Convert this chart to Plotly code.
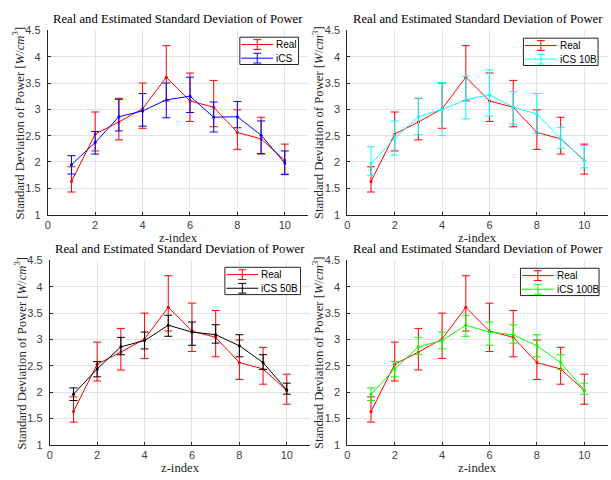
import plotly.graph_objects as go

z = [1, 2, 3, 4, 5, 6, 7, 8, 9, 10]

real = [1.63, 2.53, 2.76, 3.01, 3.61, 3.16, 3.04, 2.56, 2.44, 2.03]
real_hi = [1.91, 2.95, 3.21, 3.50, 4.21, 3.69, 3.55, 2.99, 2.85, 2.34]
real_lo = [1.43, 2.21, 2.42, 2.64, 3.16, 2.77, 2.67, 2.24, 2.15, 1.77]

ics = [1.95, 2.37, 2.86, 2.97, 3.18, 3.25, 2.85, 2.86, 2.51, 1.98]
ics_hi = [2.12, 2.58, 3.19, 3.30, 3.50, 3.61, 3.14, 3.15, 2.78, 2.21]
ics_lo = [1.77, 2.15, 2.59, 2.68, 2.84, 2.94, 2.57, 2.65, 2.16, 1.76]

ics10 = [1.97, 2.45, 2.86, 3.00, 3.18, 3.28, 3.04, 2.91, 2.45, 2.03]
ics10_hi = [2.29, 2.78, 3.21, 3.51, 3.63, 3.75, 3.34, 3.30, 2.66, 2.31]
ics10_lo = [1.74, 2.13, 2.52, 2.50, 2.82, 2.87, 2.72, 2.55, 2.26, 1.89]

ics50 = [1.96, 2.44, 2.86, 2.98, 3.27, 3.14, 3.09, 2.88, 2.56, 2.04]
ics50_hi = [2.08, 2.58, 3.04, 3.14, 3.46, 3.33, 3.28, 3.09, 2.71, 2.17]
ics50_lo = [1.84, 2.29, 2.71, 2.82, 3.06, 2.89, 2.93, 2.67, 2.43, 1.96]

ics100 = [1.96, 2.44, 2.86, 2.98, 3.27, 3.14, 3.09, 2.88, 2.56, 2.04]
ics100_hi = [2.08, 2.58, 3.04, 3.14, 3.46, 3.33, 3.28, 3.09, 2.71, 2.17]
ics100_lo = [1.84, 2.29, 2.71, 2.82, 3.06, 2.89, 2.93, 2.67, 2.43, 1.96]

x_ticks = [0, 2, 4, 6, 8, 10]
y_ticks = [1, 1.5, 2, 2.5, 3, 3.5, 4, 4.5]

title_text = "Real and Estimated Standard Deviation of Power"
ylabel = "Standard Deviation of Power [<i>W</i>/<i>cm</i><sup>3</sup>]"
xlabel = "z-index"

panels = [
    ("iCS", ics, ics_hi, ics_lo, "#0000ff"),
    ("iCS 10B", ics10, ics10_hi, ics10_lo, "#00ffff"),
    ("iCS 50B", ics50, ics50_hi, ics50_lo, "#000000"),
    ("iCS 100B", ics100, ics100_hi, ics100_lo, "#00ff00"),
]

W, H = 611, 480
xdoms_px = [(45, 307), (346, 608), (47, 309), (346, 608)]
ydoms_px = [(25, 214), (25, 214), (261, 450), (261, 450)]
# legend boxes in pixels: (right, top, width)
legend_px = [(297, 32, 59), (598, 33, 75), (299, 268, 76), (599, 269, 79)]

serif = "Liberation Serif, DejaVu Serif, serif"
sans = "Liberation Sans, Arial, sans-serif"
axcol = "#262626"
tickcol = "#404040"
red = "#ff0000"

fig = go.Figure()
layout = {}
annotations = []
shapes = []


def px(xp):
    return xp / W


def py(yp):
    return 1 - yp / H


for i, (name, est, hi, lo, col) in enumerate(panels):
    k = i + 1
    xa = "x" if k == 1 else f"x{k}"
    ya = "y" if k == 1 else f"y{k}"
    for nm, vals, h, l, c in [("Real", real, real_hi, real_lo, red), (name, est, hi, lo, col)]:
        fig.add_trace(go.Scatter(
            x=z, y=vals, name=nm, mode="lines+markers", showlegend=False,
            line=dict(color=c, width=1), marker=dict(color=c, size=3),
            error_y=dict(type="data", symmetric=False,
                         array=[a - b for a, b in zip(h, vals)],
                         arrayminus=[b - a for a, b in zip(l, vals)],
                         color=c, thickness=1, width=4),
            xaxis=xa, yaxis=ya,
        ))
    x0p, x1p = xdoms_px[i]
    y0p, y1p = ydoms_px[i]
    xkey = "xaxis" if k == 1 else f"xaxis{k}"
    ykey = "yaxis" if k == 1 else f"yaxis{k}"
    common = dict(showgrid=True, gridcolor="#e3e3e3", gridwidth=1,
                  showline=True, linecolor=axcol, linewidth=1, zeroline=False,
                  ticks="inside", ticklen=3, tickcolor=axcol,
                  tickfont=dict(family=sans, size=11, color=tickcol))
    layout[xkey] = dict(domain=[px(x0p), px(x1p)], anchor=ya, range=[0, 11],
                        tickvals=x_ticks, **common)
    layout[ykey] = dict(domain=[py(y1p), py(y0p)], anchor=xa, range=[1, 4.5],
                        tickvals=y_ticks, ticklabelstandoff=4, **common)

    cx = px((x0p + x1p) / 2)
    annotations.append(dict(text=title_text, x=cx, y=py(y0p - 11.5), xref="paper", yref="paper",
                            xanchor="center", yanchor="middle", showarrow=False,
                            font=dict(family=serif, size=12.7, color="#000000")))
    annotations.append(dict(text=xlabel, x=cx, y=py(y1p + 24), xref="paper", yref="paper",
                            xanchor="center", yanchor="middle", showarrow=False,
                            font=dict(family=serif, size=12.7, color=axcol)))
    annotations.append(dict(text=ylabel, x=px(x0p - 30), y=py((y0p + y1p) / 2),
                            xref="paper", yref="paper",
                            xanchor="center", yanchor="middle", showarrow=False, textangle=-90,
                            font=dict(family=serif, size=12.7, color=axcol)))

    # legend drawn as a box with entries
    rx, ty, bw = legend_px[i]
    lx = rx - bw
    shapes.append(dict(type="rect", xref="paper", yref="paper",
                       x0=px(lx), x1=px(rx), y0=py(ty + 28), y1=py(ty),
                       line=dict(color=axcol, width=1), fillcolor="white", layer="above"))
    for j, (nm, c) in enumerate([("Real", red), (name, col)]):
        yy = ty + 7.5 + 14 * j
        sx0, sx1 = lx + 1.5, lx + 33.5
        mx = (sx0 + sx1) / 2
        shapes.append(dict(type="line", xref="paper", yref="paper",
                           x0=px(sx0), x1=px(sx1), y0=py(yy), y1=py(yy),
                           line=dict(color=c, width=1), layer="above"))
        shapes.append(dict(type="line", xref="paper", yref="paper",
                           x0=px(mx), x1=px(mx), y0=py(yy - 5), y1=py(yy + 5),
                           line=dict(color=c, width=1), layer="above"))
        for dy in (-5, 5):
            shapes.append(dict(type="line", xref="paper", yref="paper",
                               x0=px(mx - 4), x1=px(mx + 4), y0=py(yy + dy), y1=py(yy + dy),
                               line=dict(color=c, width=1), layer="above"))
        annotations.append(dict(text=nm, x=px(lx + 34.5), y=py(yy), xref="paper", yref="paper",
                                xanchor="left", yanchor="middle", showarrow=False,
                                font=dict(family=sans, size=10, color="#000000")))

fig.update_layout(**layout)
fig.update_layout(width=W, height=H, margin=dict(l=0, r=0, t=0, b=0),
                  paper_bgcolor="white", plot_bgcolor="white",
                  annotations=annotations, shapes=shapes, showlegend=False)
fig.write_html("out.html")
